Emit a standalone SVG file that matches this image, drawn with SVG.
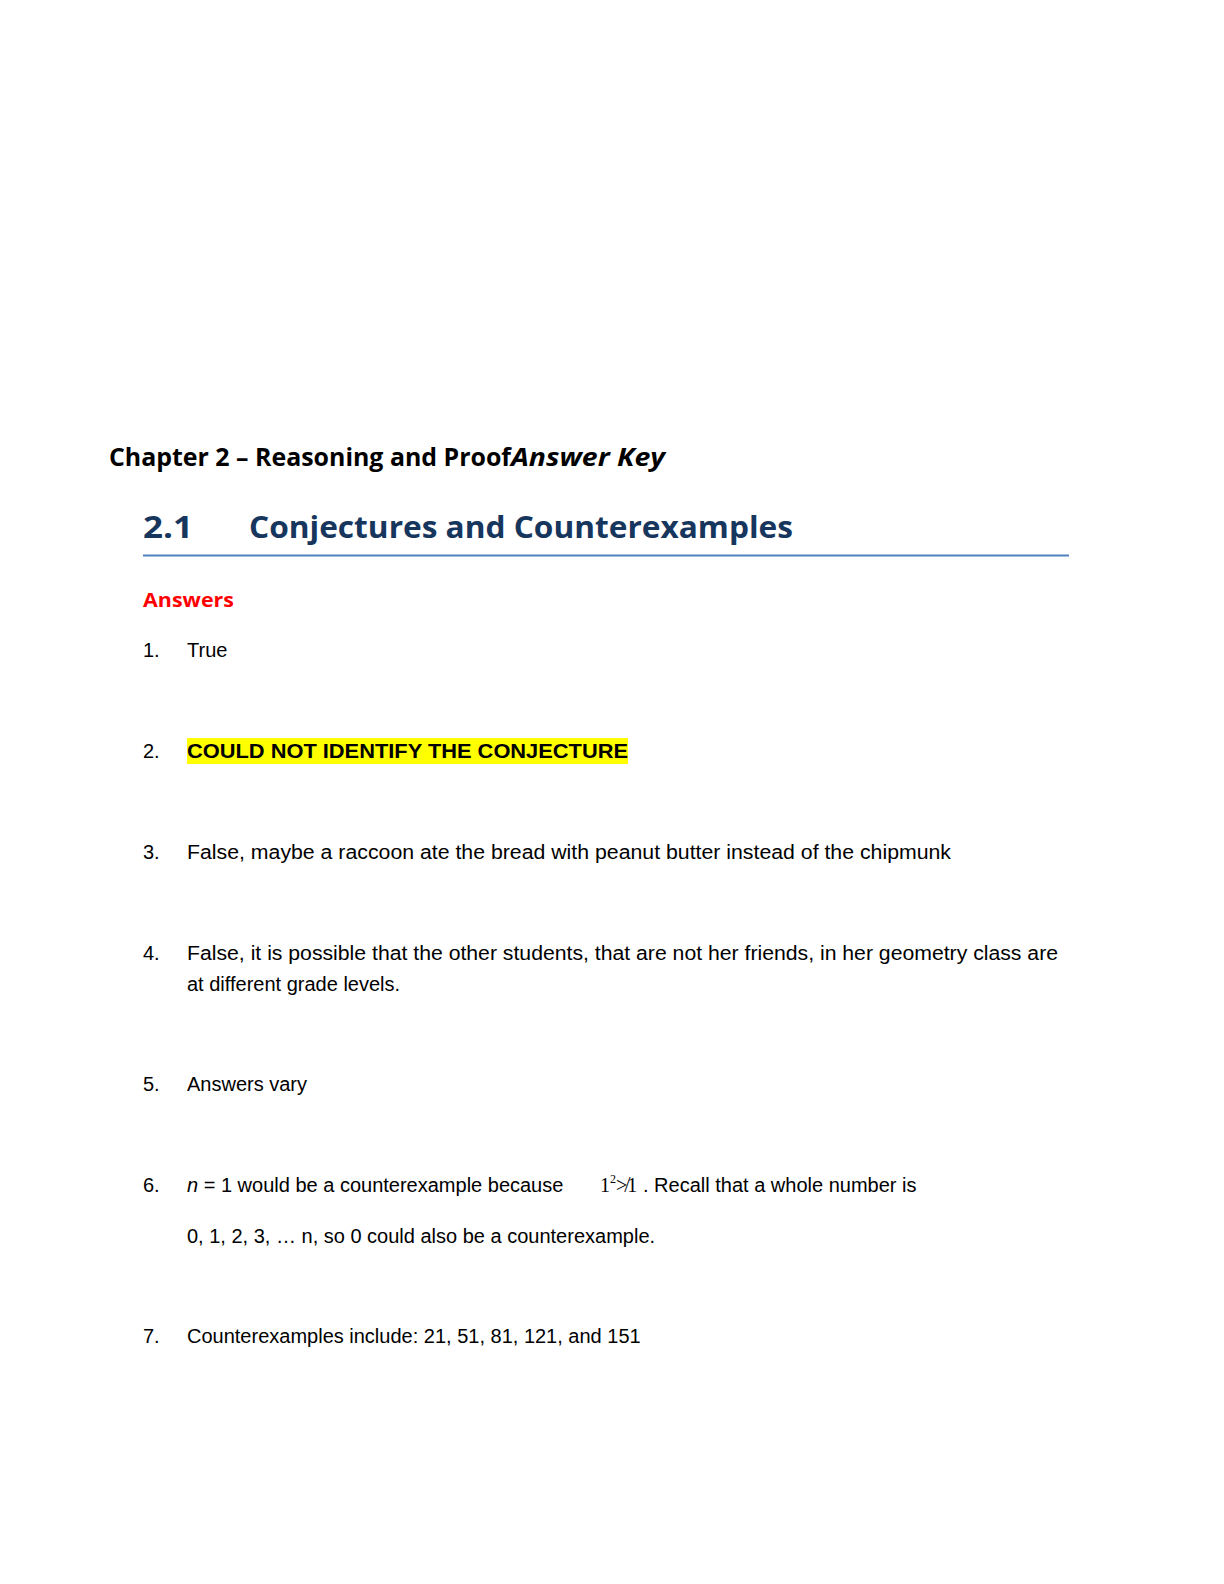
<svg xmlns="http://www.w3.org/2000/svg" width="1224" height="1584" viewBox="0 0 1224 1584">
<style>
.b{font-family:"Liberation Sans",Arial,sans-serif;font-size:20px;fill:#000}
.h{font-family:"Open Sans","Noto Sans",sans-serif;font-weight:bold}
</style>
<rect width="1224" height="1584" fill="#fff"/>
<g id="title">
<text class="h" x="109" y="466" font-size="25" textLength="402" lengthAdjust="spacingAndGlyphs">Chapter 2 – Reasoning and Proof</text>
<text class="h" x="511" y="466" font-size="25" font-style="italic" textLength="154" lengthAdjust="spacingAndGlyphs">Answer Key</text>
</g>
<g id="heading">
<text class="h" x="143" y="538" font-size="31" fill="#17365D" textLength="50" lengthAdjust="spacingAndGlyphs">2.1</text>
<text class="h" x="249" y="538" font-size="31" fill="#17365D" textLength="544" lengthAdjust="spacingAndGlyphs">Conjectures and Counterexamples</text>
<line x1="143" y1="555.5" x2="1069" y2="555.5" stroke="#4F81BD" stroke-width="2"/>
</g>
<text class="h" x="143" y="607" font-size="20" fill="#FF0000" textLength="91" lengthAdjust="spacingAndGlyphs">Answers</text>
<g id="items">
<text class="b" x="143" y="657">1.</text><text class="b" x="187" y="657">True</text>
<text class="b" x="143" y="758">2.</text>
<rect x="187" y="738" width="441" height="26" fill="#FFFF00"/>
<text class="b" x="187" y="758" font-weight="bold" textLength="441" lengthAdjust="spacingAndGlyphs">COULD NOT IDENTIFY THE CONJECTURE</text>
<text class="b" x="143" y="859">3.</text><text class="b" x="187" y="859" textLength="764" lengthAdjust="spacingAndGlyphs">False, maybe a raccoon ate the bread with peanut butter instead of the chipmunk</text>
<text class="b" x="143" y="960">4.</text><text class="b" x="187" y="960" textLength="871" lengthAdjust="spacingAndGlyphs">False, it is possible that the other students, that are not her friends, in her geometry class are</text>
<text class="b" x="187" y="991">at different grade levels.</text>
<text class="b" x="143" y="1091">5.</text><text class="b" x="187" y="1091">Answers vary</text>
<text class="b" x="143" y="1192">6.</text>
<text class="b" x="187" y="1192"><tspan font-style="italic">n</tspan> = 1 would be a counterexample because</text>
<text x="600" y="1192" font-family="Liberation Serif,serif" font-size="20">1<tspan font-size="12" dy="-9">2</tspan><tspan dy="9">≯1</tspan></text>
<text class="b" x="643" y="1192">.  Recall that a whole number is</text>
<text class="b" x="187" y="1243">0, 1, 2, 3, … n, so 0 could also be a counterexample.</text>
<text class="b" x="143" y="1343">7.</text><text class="b" x="187" y="1343">Counterexamples include:  21, 51, 81, 121, and 151</text>
</g>
</svg>
